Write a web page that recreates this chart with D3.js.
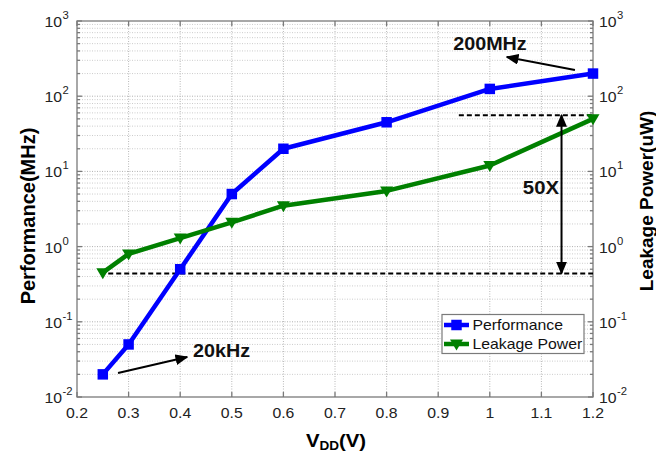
<!DOCTYPE html>
<html><head><meta charset="utf-8">
<script src="https://cdn.jsdelivr.net/npm/d3@7"></script>
<style>
body{margin:0;background:#fff;}
svg{display:block;font-family:"Liberation Sans",Arial,sans-serif;}
</style></head>
<body><svg id="c" width="656" height="454"></svg>
<script>
// ---- data ----
const vdd = [0.25, 0.3, 0.4, 0.5, 0.6, 0.8, 1.0, 1.2];
const performance = [0.02, 0.05, 0.5, 5, 20, 45, 125, 200];
const leakage = [0.45, 0.8, 1.3, 2.1, 3.5, 5.5, 12, 50];
const xTicks = [0.2, 0.3, 0.4, 0.5, 0.6, 0.7, 0.8, 0.9, 1.0, 1.1, 1.2];
const xTickLabels = ["0.2","0.3","0.4","0.5","0.6","0.7","0.8","0.9","1","1.1","1.2"];
const yExponents = [-2, -1, 0, 1, 2, 3];
const seriesNames = ["Performance", "Leakage Power"];
// annotation levels (data units)
const dashLevels = [56, 0.44];
const dashStarts = [0.94, 0.245];

const svg = d3.select("#c");
const L = 77, R = 593, T = 21, B = 397, SX = 1.13;
const x = d3.scaleLinear().domain([0.2, 1.2]).range([L, R]);
const y = d3.scaleLog().domain([0.01, 1000]).range([B, T]);

// grid
const g = svg.append("g");
const minor = [];
for (let e = -2; e < 3; e++) for (let k = 2; k <= 9; k++) minor.push(k * Math.pow(10, e));
g.selectAll(".mn").data(minor).join("line")
  .attr("x1", L).attr("x2", R).attr("y1", d => y(d)).attr("y2", d => y(d))
  .attr("stroke", "#cccccc").attr("stroke-width", 1).attr("stroke-dasharray", "1,1.5");
g.selectAll(".mj").data(yExponents.slice(1, -1)).join("line")
  .attr("x1", L).attr("x2", R).attr("y1", d => y(Math.pow(10, d))).attr("y2", d => y(Math.pow(10, d)))
  .attr("stroke", "#b0b0b0").attr("stroke-width", 1).attr("stroke-dasharray", "1,1.5");
g.selectAll(".vx").data(xTicks.slice(1, -1)).join("line")
  .attr("x1", d => x(d)).attr("x2", d => x(d)).attr("y1", T).attr("y2", B)
  .attr("stroke", "#b8b8b8").attr("stroke-width", 1).attr("stroke-dasharray", "1,1.5");

// axes (box + inward ticks)
const ax = svg.append("g").attr("stroke", "#7a7a7a").attr("stroke-width", 1.3);
ax.append("rect").attr("x", L).attr("y", T).attr("width", R - L).attr("height", B - T).attr("fill", "none");
xTicks.forEach(v => {
  ax.append("line").attr("x1", x(v)).attr("x2", x(v)).attr("y1", B).attr("y2", B - 5);
  ax.append("line").attr("x1", x(v)).attr("x2", x(v)).attr("y1", T).attr("y2", T + 5);
});
yExponents.forEach(e => {
  const yy = y(Math.pow(10, e));
  ax.append("line").attr("x1", L).attr("x2", L + 5).attr("y1", yy).attr("y2", yy);
  ax.append("line").attr("x1", R).attr("x2", R - 5).attr("y1", yy).attr("y2", yy);
});
minor.forEach(v => {
  ax.append("line").attr("x1", L).attr("x2", L + 3).attr("y1", y(v)).attr("y2", y(v));
  ax.append("line").attr("x1", R).attr("x2", R - 3).attr("y1", y(v)).attr("y2", y(v));
});

// tick labels
const tl = svg.append("g").attr("fill", "#222").attr("font-size", 14);
xTicks.forEach((v, i) => {
  tl.append("text").attr("transform", `translate(${x(v)},418) scale(${SX},1)`)
    .attr("text-anchor", "middle").text(xTickLabels[i]);
});
yExponents.forEach(e => {
  const yy = y(Math.pow(10, e)) + 6;
  const gl = tl.append("g").attr("transform", `translate(62,${yy}) scale(${SX},1)`);
  gl.append("text").attr("text-anchor", "end").text("10");
  gl.append("text").attr("x", 0.5).attr("y", -8).attr("font-size", 10).text(e);
  const gr = tl.append("g").attr("transform", `translate(599,${yy}) scale(${SX},1)`);
  gr.append("text").text("10");
  gr.append("text").attr("x", 16).attr("y", -8).attr("font-size", 10).text(e);
});

// axis titles
svg.append("text").attr("transform", "translate(35,216) rotate(-90)")
  .attr("text-anchor", "middle").attr("font-size", 20).attr("font-weight", "bold").text("Performance(MHz)");
svg.append("text").attr("transform", "translate(653,201) rotate(-90)")
  .attr("text-anchor", "middle").attr("font-size", 19).attr("font-weight", "bold").text("Leakage Power(uW)");
const xt = svg.append("text").attr("transform", `translate(336,447) scale(${SX},1)`)
  .attr("text-anchor", "middle").attr("font-size", 18).attr("font-weight", "bold");
xt.append("tspan").text("V");
xt.append("tspan").attr("font-size", 12).attr("dy", 3).text("DD");
xt.append("tspan").attr("dy", -3).text("(V)");

// dashed reference lines
dashLevels.forEach((lv, i) => {
  svg.append("line").attr("x1", x(dashStarts[i])).attr("x2", x(1.2)).attr("y1", y(lv)).attr("y2", y(lv))
    .attr("stroke", "#000").attr("stroke-width", 2).attr("stroke-dasharray", "5,3");
});

// series
const colors = ["#0000ff", "#008000"];
const series = [performance, leakage];
const line = d3.line().x(d => x(d[0])).y(d => y(d[1]));
series.forEach((s, i) => {
  const pts = vdd.map((v, j) => [v, s[j]]);
  svg.append("path").attr("d", line(pts)).attr("fill", "none")
    .attr("stroke", colors[i]).attr("stroke-width", 4.5).attr("stroke-linejoin", "round");
});
const sq = d3.symbol().type(d3.symbolSquare).size(110);
const tri = "M-6.5,-4.5 L6.5,-4.5 L0,6.5 Z";
svg.selectAll(".pm").data(vdd).join("path")
  .attr("d", sq()).attr("transform", (d, j) => `translate(${x(d)},${y(performance[j])})`).attr("fill", colors[0]);
svg.selectAll(".lm").data(vdd).join("path")
  .attr("d", tri).attr("transform", (d, j) => `translate(${x(d)},${y(leakage[j])})`).attr("fill", colors[1]);

// arrows
const defs = svg.append("defs");
defs.append("marker").attr("id", "ah").attr("viewBox", "0 0 10 10").attr("refX", 9).attr("refY", 5)
  .attr("markerWidth", 6.5).attr("markerHeight", 5.5).attr("markerUnits", "strokeWidth").attr("orient", "auto-start-reverse")
  .attr("preserveAspectRatio", "none")
  .append("path").attr("d", "M0,0 L10,5 L0,10 Z").attr("fill", "#000");
function arrow(x1, y1, x2, y2, both) {
  const l = svg.append("line").attr("x1", x(x1)).attr("y1", y(y1)).attr("x2", x(x2)).attr("y2", y(y2))
    .attr("stroke", "#000").attr("stroke-width", 2).attr("marker-end", "url(#ah)");
  if (both) l.attr("marker-start", "url(#ah)");
}
arrow(1.165, 223, 1.033, 332, false);
arrow(0.2795, 0.0208, 0.4135, 0.034, false);
arrow(1.139, 56, 1.139, 0.44, true);

function label(xv, yv, txt, size) {
  svg.append("text").attr("transform", `translate(${x(xv)},${y(yv)}) scale(${SX},1)`)
    .attr("font-size", size).attr("font-weight", "bold").attr("fill", "#111").text(txt);
}
label(0.929, 411, "200MHz", 17.5);
label(0.4248, 0.0343, "20kHz", 17.5);
label(1.064, 5.0, "50X", 18);

// legend
const lg = svg.append("g");
lg.append("rect").attr("x", 442).attr("y", 314.5).attr("width", 142).attr("height", 39)
  .attr("fill", "#fff").attr("stroke", "#7a7a7a").attr("stroke-width", 1.2);
seriesNames.forEach((n, i) => {
  const yy = 325 + i * 19;
  lg.append("line").attr("x1", 444).attr("x2", 469).attr("y1", yy).attr("y2", yy)
    .attr("stroke", colors[i]).attr("stroke-width", 4.5);
  lg.append("path").attr("d", i === 0 ? sq() : tri).attr("transform", `translate(456.5,${yy})`).attr("fill", colors[i]);
  lg.append("text").attr("transform", `translate(472.5,${yy + 5}) scale(${SX},1)`)
    .attr("font-size", 14).attr("fill", "#111").text(n);
});
</script></body></html>
